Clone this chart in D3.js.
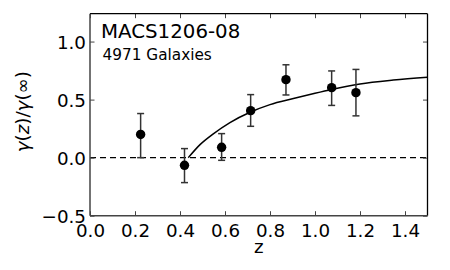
<!DOCTYPE html>
<html><head><meta charset="utf-8">
<script src="https://cdn.jsdelivr.net/npm/d3@7"></script>
<style>body{margin:0;background:#fff}svg{display:block;font-family:"DejaVu Sans",sans-serif}</style>
</head><body>
<svg id="c" width="450" height="270"></svg>
<script>
const zVals   = [0.225, 0.420, 0.585, 0.714, 0.871, 1.074, 1.182];
const ratio   = [0.200, -0.066, 0.089, 0.405, 0.672, 0.603, 0.560];
const errHi   = [0.380, 0.078, 0.207, 0.543, 0.800, 0.747, 0.760];
const errLo   = [0.000, -0.215, -0.023, 0.270, 0.540, 0.450, 0.360];
const curveZ  = [0.437, 0.489, 0.548, 0.622, 0.714, 0.800, 0.904, 1.000, 1.074, 1.200, 1.348, 1.500];
const curveY  = [0.000, 0.112, 0.205, 0.302, 0.393, 0.457, 0.509, 0.555, 0.588, 0.635, 0.668, 0.692];
const xTicks  = [0.0, 0.2, 0.4, 0.6, 0.8, 1.0, 1.2, 1.4];
const yTicks  = [-0.5, 0.0, 0.5, 1.0];
const title   = "MACS1206-08";
const subtitle = "4971 Galaxies";

const L = 90, R = 427.5, T = 13.7, B = 215.7;
const svg = d3.select("#c");
const x = d3.scaleLinear().domain([0, 1.5]).range([L, R]);
const y = d3.scaleLinear().domain([-0.5, 1.24]).range([B, T]);
const fmt = d => d3.format(".1f")(d).replace("-", "\u2212");

// dashed zero line
svg.append("line").attr("x1", L).attr("x2", R).attr("y1", y(0)).attr("y2", y(0))
  .attr("stroke", "#000").attr("stroke-width", 1.4).attr("stroke-dasharray", "6,4");

// model curve
const line = d3.line().x((d,i)=>x(curveZ[i])).y((d,i)=>y(curveY[i])).curve(d3.curveMonotoneX);
svg.append("path").datum(curveZ).attr("d", line).attr("fill","none")
  .attr("stroke","#000").attr("stroke-width",1.5);

// error bars
const eb = svg.append("g").attr("stroke","#333").attr("stroke-width",1.5);
zVals.forEach((z,i)=>{
  eb.append("line").attr("x1",x(z)).attr("x2",x(z)).attr("y1",y(errLo[i])).attr("y2",y(errHi[i]));
  [errLo[i], errHi[i]].forEach(v=>{
    eb.append("line").attr("x1",x(z)-3.5).attr("x2",x(z)+3.5).attr("y1",y(v)).attr("y2",y(v));
  });
});
svg.append("g").selectAll("circle").data(zVals).join("circle")
  .attr("cx",d=>x(d)).attr("cy",(d,i)=>y(ratio[i])).attr("r",4.7).attr("fill","#000");

// axes (ticks inward)
const tl = 4.5;
const axB = svg.append("g").attr("transform",`translate(0,${B})`)
  .call(d3.axisBottom(x).tickValues(xTicks).tickSize(-tl).tickPadding(8).tickFormat(fmt));
const axT = svg.append("g").attr("transform",`translate(0,${T})`)
  .call(d3.axisTop(x).tickValues(xTicks).tickSize(-tl).tickFormat(""));
const axL = svg.append("g").attr("transform",`translate(${L},0)`)
  .call(d3.axisLeft(y).tickValues(yTicks).tickSize(-tl).tickPadding(4).tickFormat(fmt));
const axR = svg.append("g").attr("transform",`translate(${R},0)`)
  .call(d3.axisRight(y).tickValues(yTicks).tickSize(-tl).tickFormat(""));
[axB,axT,axL,axR].forEach(a=>{
  a.select(".domain").remove();
  a.selectAll(".tick line").attr("stroke","#444").attr("stroke-width",1);
  a.selectAll("text").attr("font-family","DejaVu Sans").attr("font-size",18.3).attr("fill","#000");
});
axB.selectAll("text").attr("dy","0.71em");
axL.selectAll("text").attr("dy","0.36em");

// frame
svg.append("line").attr("x1",L).attr("x2",R).attr("y1",T).attr("y2",T).attr("stroke","#000").attr("stroke-width",1.3);
svg.append("line").attr("x1",R).attr("x2",R).attr("y1",T).attr("y2",B).attr("stroke","#000").attr("stroke-width",1.3);
svg.append("line").attr("x1",L).attr("x2",L).attr("y1",T).attr("y2",B).attr("stroke","#444").attr("stroke-width",1.5);
svg.append("line").attr("x1",L).attr("x2",R).attr("y1",B).attr("y2",B).attr("stroke","#444").attr("stroke-width",1.5);

// labels
svg.append("text").attr("x",(L+R)/2).attr("y",253).attr("text-anchor","middle")
  .attr("font-size",18.3).text("z");
const yl = svg.append("text").attr("transform",`translate(29,${(T+B)/2-3}) rotate(-90)`)
  .attr("text-anchor","middle").attr("font-size",18.3);
yl.append("tspan").attr("font-style","italic").text("γ");
yl.append("tspan").text("(");
yl.append("tspan").attr("font-style","italic").text("z");
yl.append("tspan").text(")/");
yl.append("tspan").attr("font-style","italic").text("γ");
yl.append("tspan").text("(∞)");

svg.append("text").attr("x",101).attr("y",37.5).attr("font-size",19.8).text(title);
svg.append("text").attr("x",102.5).attr("y",60).attr("font-size",15.3).text(subtitle);
</script>
</body></html>
